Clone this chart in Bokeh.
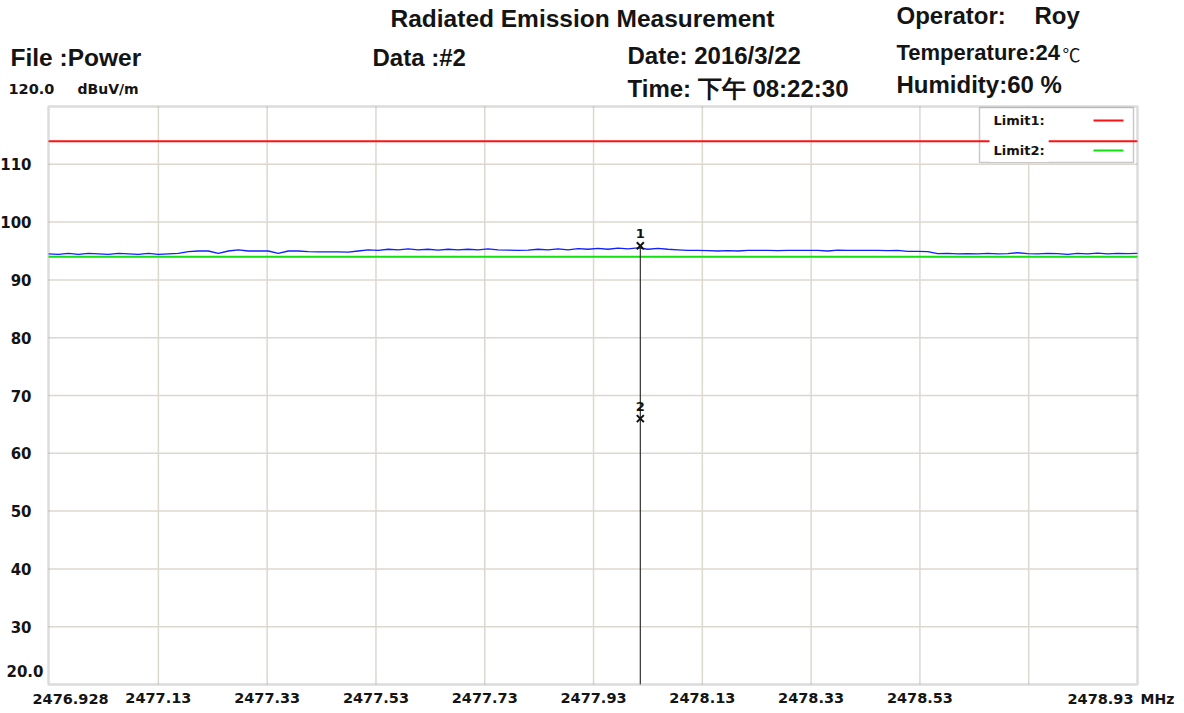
import numpy as np
from bokeh.plotting import figure
from bokeh.models import Label, BoxAnnotation, FixedTicker, LinearAxis
from bokeh.embed import file_html
from bokeh.resources import INLINE
from bokeh.core.properties import value

# ---------------- data ----------------
F_START = 2476.928
F_STOP = 2478.93
Y_MIN = 20.0
Y_MAX = 120.0

x_ticks = [2477.13, 2477.33, 2477.53, 2477.73, 2477.93, 2478.13, 2478.33, 2478.53, 2478.73]
x_tick_labels = ["2477.13", "2477.33", "2477.53", "2477.73", "2477.93", "2478.13", "2478.33", "2478.53", ""]
y_ticks = [30, 40, 50, 60, 70, 80, 90, 100, 110]
y_tick_labels = ["30", "40", "50", "60", "70", "80", "90", "100", "110"]

limit1_level = 114.0
limit2_level = 94.0

trace_level = [
    94.5, 94.4, 94.6, 94.4, 94.6, 94.5, 94.4, 94.6, 94.5, 94.4, 94.6, 94.4, 94.5, 94.6,
    94.9, 95.0, 95.0, 94.6, 95.0, 95.2, 95.0, 95.0, 95.0, 94.6, 95.0, 95.0, 94.9, 94.85,
    94.85, 94.85, 94.8, 95.0,
    95.2, 95.1, 95.3, 95.2, 95.35, 95.2, 95.3, 95.15, 95.3, 95.2, 95.3, 95.2, 95.35, 95.2,
    95.15, 95.1, 95.15,
    95.3, 95.2, 95.35, 95.2, 95.4, 95.3, 95.45, 95.3, 95.5, 95.35, 95.55, 95.3, 95.45, 95.3, 95.2,
    95.1, 95.1, 95.05, 95.0, 95.05, 95.0, 95.1, 95.1, 95.1, 95.05, 95.1, 95.1, 95.1, 95.1,
    95.0, 95.15, 95.1, 95.1, 95.1, 95.1, 95.05, 95.1,
    94.95, 94.95, 94.9,
    94.55, 94.6, 94.5, 94.55, 94.5, 94.6, 94.5, 94.55, 94.7, 94.55, 94.5, 94.6, 94.55, 94.4,
    94.6, 94.5, 94.65, 94.5, 94.6, 94.55, 94.6,
]
trace_freq = np.linspace(F_START, F_STOP, len(trace_level))

marker_names = ["1", "2"]
marker_freq = [2478.016, 2478.016]
marker_level = [95.9, 66.0]

# ---------------- layout (picture pixels of the plot area) ----------------
W, H = 1184, 713
PL, PR, PT, PB = 48, 1137, 106, 684
SX = (F_STOP - F_START) / (PR - PL)
SY = (Y_MAX - Y_MIN) / (PB - PT)

def dx(px):
    return F_START + (px - PL) * SX

def dy(py):
    return Y_MAX - (py - PT) * SY

p = figure(width=W, height=H, output_backend="svg", toolbar_location=None,
           x_range=(dx(0), dx(W)), y_range=(dy(H), dy(0)),
           x_axis_type=None, y_axis_type=None,
           min_border_left=0, min_border_right=0, min_border_top=0, min_border_bottom=0)
p.background_fill_color = "white"
p.border_fill_color = "white"
p.outline_line_color = None
p.xgrid.visible = False
p.ygrid.visible = False

TICK_FONT = "DejaVu Sans"
HEAD_FONT = "Liberation Sans"
INK = "#141414"

xaxis = LinearAxis(fixed_location=Y_MIN, ticker=FixedTicker(ticks=x_ticks),
                   major_label_overrides={t: l for t, l in zip(x_ticks, x_tick_labels)})
yaxis = LinearAxis(fixed_location=F_START, ticker=FixedTicker(ticks=y_ticks),
                   major_label_overrides={t: l for t, l in zip(y_ticks, y_tick_labels)})
for ax in (xaxis, yaxis):
    ax.axis_line_color = None
    ax.major_tick_line_color = None
    ax.minor_tick_line_color = None
    ax.major_label_text_font = TICK_FONT
    ax.major_label_text_font_style = "bold"
    ax.major_label_text_color = INK
xaxis.major_label_text_font_size = "14.5px"
yaxis.major_label_text_font_size = "15px"
xaxis.major_label_standoff = 2
yaxis.major_label_standoff = 11
p.add_layout(xaxis, "below")
p.add_layout(yaxis, "left")

# grid lines drawn from the tick arrays
GRID = "#dcd8d0"
p.segment(x0=x_ticks, y0=[Y_MIN] * len(x_ticks), x1=x_ticks, y1=[Y_MAX] * len(x_ticks),
          line_color=GRID, line_width=1.5)
p.segment(x0=[F_START] * len(y_ticks), y0=y_ticks, x1=[F_STOP] * len(y_ticks), y1=y_ticks,
          line_color=GRID, line_width=1.5)

# legend box background (above grid, below the limit lines)
p.quad(left=[dx(979)], right=[dx(1133)], top=[dy(107)], bottom=[dy(162)],
       fill_color="white", line_color="#c8c8c8", line_width=1.5)

# limit lines
p.line([F_START, F_STOP], [limit1_level, limit1_level], line_color="#ff1010", line_width=2)
p.line([F_START, F_STOP], [limit2_level, limit2_level], line_color="#10e010", line_width=2)

# trace
p.line(trace_freq, trace_level, line_color="#1020ff", line_width=1.3)

# marker line and markers
p.segment(x0=[marker_freq[0]], y0=[Y_MIN], x1=[marker_freq[0]], y1=[marker_level[0]],
          line_color="#303030", line_width=1.2)
p.scatter(marker_freq, marker_level, marker="x", size=10, line_width=2, line_color="#111111")
p.text(marker_freq, marker_level, text=marker_names, text_font=value(TICK_FONT),
       text_font_size="13px", text_font_style="bold", text_color="#111111",
       text_align="center", text_baseline="bottom", y_offset=-8)

# plot-area frame
p.add_layout(BoxAnnotation(left=F_START, right=F_STOP, bottom=Y_MIN, top=Y_MAX,
                           fill_alpha=0, line_color="#8c8c8c", line_width=2.5))

# legend labels and swatches
for name, level_py, col in (("Limit1:", 120, "#ff1010"), ("Limit2:", 150, "#10e010")):
    p.add_layout(Label(x=dx(989), y=dy(level_py), text=name, text_font=TICK_FONT,
                       text_font_style="bold", text_font_size="13px", text_color=INK,
                       text_baseline="middle", text_align="left",
                       background_fill_color="white", padding=4))
    p.segment(x0=[dx(1093)], y0=[dy(level_py)], x1=[dx(1123)], y1=[dy(level_py)],
              line_color=col, line_width=2)

def lab(txt, px, py, size, font=HEAD_FONT, align="left", style="bold"):
    p.add_layout(Label(x=dx(px), y=dy(py), text=txt, text_font=font, text_font_style=style,
                       text_font_size=size, text_color=INK, text_align=align,
                       text_baseline="middle"))

# header
lab("Radiated Emission Measurement", 390, 18, "24.5px")
lab("Operator:", 896, 15, "24px")
lab("Roy", 1034, 15, "24px")
lab("File :Power", 10, 57, "24.5px")
lab("Data :#2", 372, 57, "24px")
lab("Date: 2016/3/22", 627, 55, "24px")
lab("Temperature:24", 896, 52, "22px")
lab("\u2103", 1062, 53, "18px", font="Noto Sans CJK SC", style="normal")
lab("Time: \u4e0b\u5348 08:22:30", 627, 88, "24px")
lab("Humidity:60 %", 896, 84, "24px")

# axis extras
lab("120.0", 8, 88, "14.5px", font=TICK_FONT)
lab("dBuV/m", 77, 88, "14px", font=TICK_FONT)
lab("20.0", 43, 670, "15px", font=TICK_FONT, align="right")
lab("2476.928", 32, 698, "14.5px", font=TICK_FONT)
lab("2478.93", 1067, 698, "14.5px", font=TICK_FONT)
lab("MHz", 1140, 698, "14px", font=TICK_FONT)

open("out.html", "w").write(file_html(p, INLINE))
